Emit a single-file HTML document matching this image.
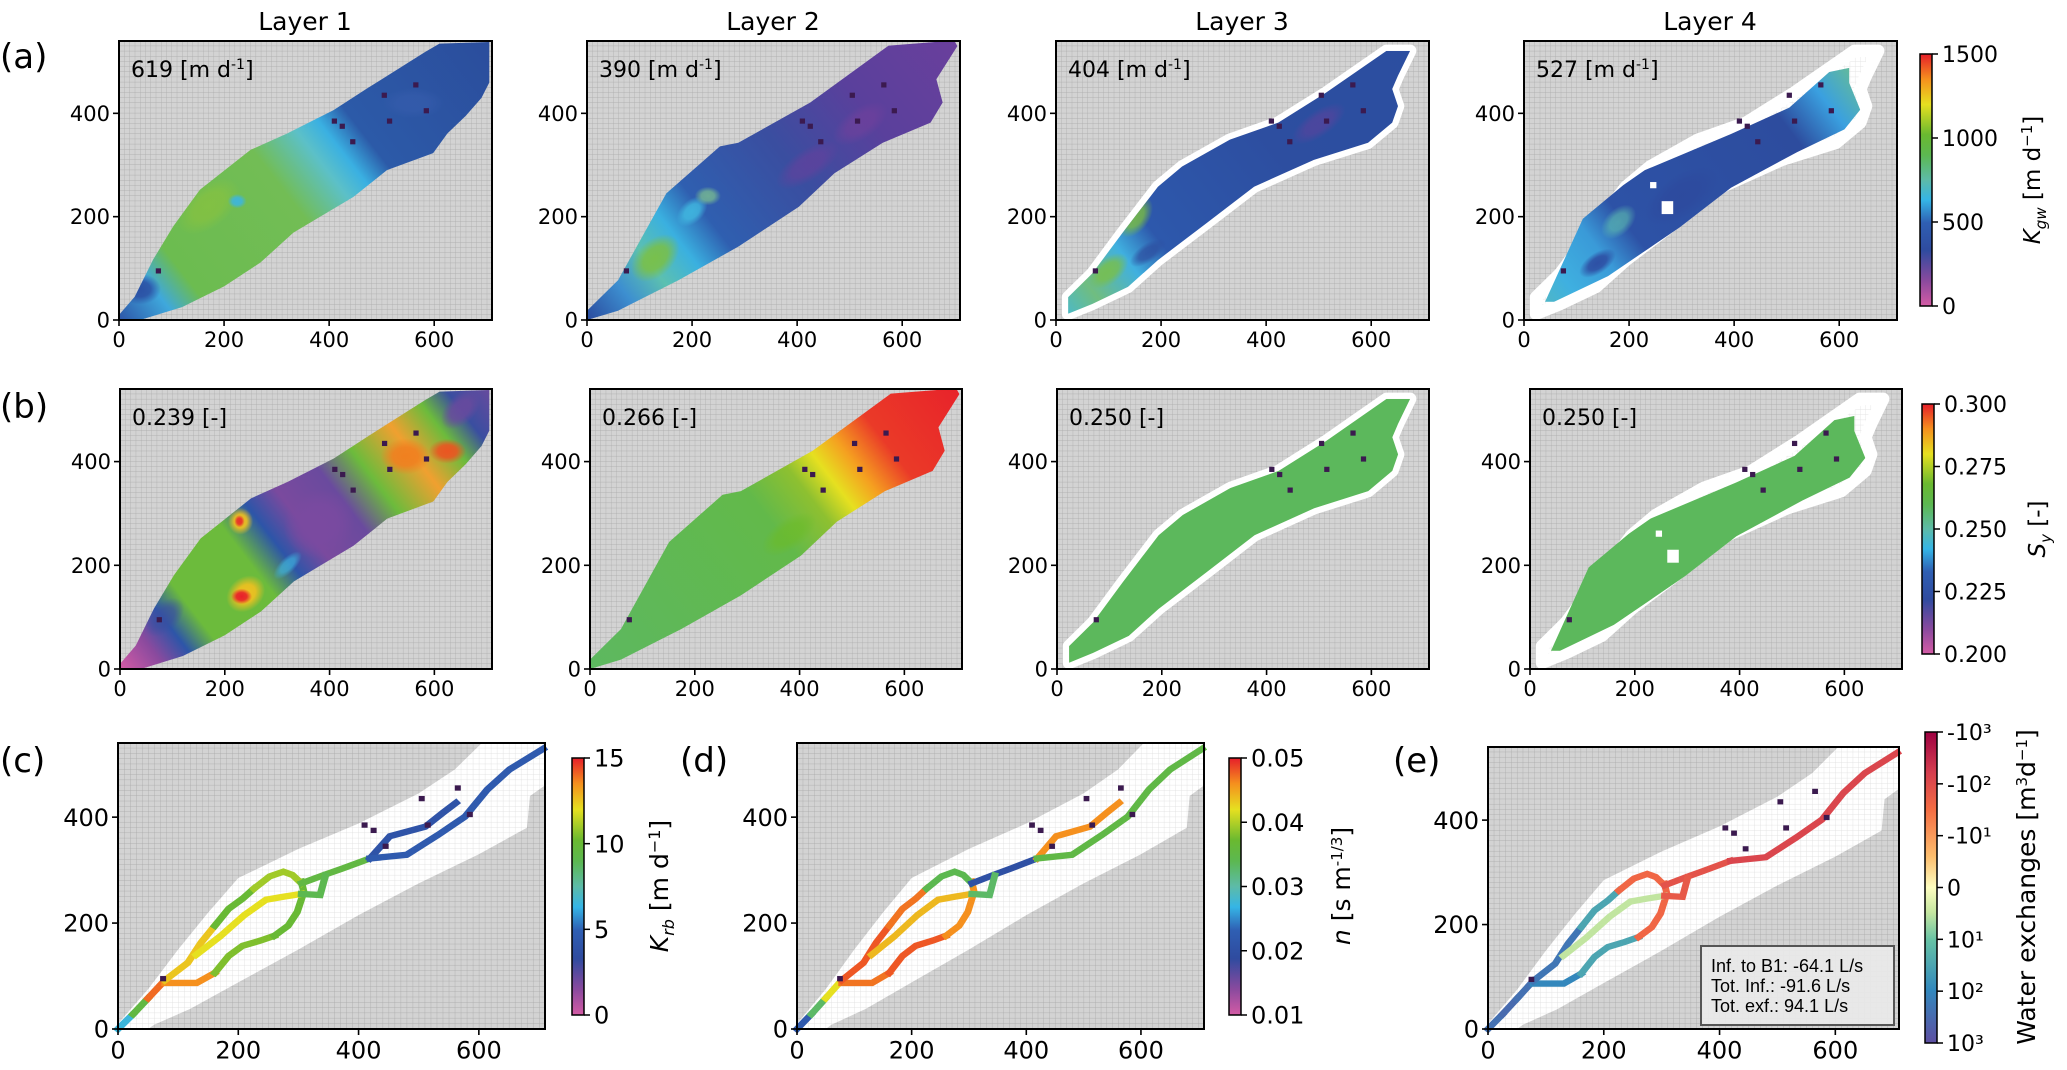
<!DOCTYPE html>
<html><head><meta charset="utf-8">
<style>
html,body{margin:0;padding:0;background:#fff;}
svg{display:block;font-family:"DejaVu Sans","Liberation Sans",sans-serif;}
</style></head>
<body>
<svg id="fig" width="2067" height="1070" viewBox="0 0 2067 1070" xmlns="http://www.w3.org/2000/svg">
<defs>
<pattern id="gridGray" patternUnits="userSpaceOnUse" width="10" height="10"><rect width="10" height="10" fill="#d3d3d3"/><path d="M0 0H10M0 0V10" stroke="#a6a6a6" stroke-width="1.2" fill="none"/></pattern>
<pattern id="gridWhite" patternUnits="userSpaceOnUse" width="10" height="10"><rect width="10" height="10" fill="#ffffff"/><path d="M0 0H10M0 0V10" stroke="#dcdcdc" stroke-width="1.2" fill="none"/></pattern>
</defs>
</svg>
<script>
// ---------- data ----------
const xTicks = [0, 200, 400, 600];
const yTicks = [0, 200, 400];
const layerTitles = ["Layer 1", "Layer 2", "Layer 3", "Layer 4"];
const kMeans = ["619", "390", "404", "527"];
const syMeans = ["0.239", "0.266", "0.250", "0.250"];
const kgwTicks = [0, 500, 1000, 1500];
const syTicks = [0.200, 0.225, 0.250, 0.275, 0.300];
const krbTicks = [0, 5, 10, 15];
const nTicks = [0.01, 0.02, 0.03, 0.04, 0.05];
const exTickLabels = ["10³", "10²", "10¹", "0", "-10¹", "-10²", "-10³"];
const wellX = [75, 410, 425, 445, 505, 515, 565, 585];
const wellY = [95, 385, 375, 345, 435, 385, 455, 405];
const legendLines = ["Inf. to B1: -64.1 L/s", "Tot. Inf.: -91.6 L/s", "Tot. exf.: 94.1 L/s"];
// river segments (data coords)
const segments = [
 [[0,0],[25,28]],
 [[25,28],[50,58]],
 [[50,58],[78,92]],
 [[78,87],[131,87],[161,106]],
 [[161,106],[184,138],[207,157],[237,167],[260,176]],
 [[260,176],[283,195],[298,221],[309,259],[305,278]],
 [[78,92],[116,125],[138,163],[161,195]],
 [[161,195],[184,227],[207,246],[226,265]],
 [[226,265],[252,288],[275,297],[290,291],[305,275]],
 [[130,140],[170,175],[210,215],[246,244],[276,250],[305,255]],
 [[305,275],[343,291],[373,303],[419,322]],
 [[305,255],[336,253],[345,290]],
 [[419,322],[452,364],[511,382],[540,408],[562,427]],
 [[419,322],[480,329],[533,367],[577,401],[614,452],[651,490],[707,529]]
];
const krbValues = [6.5, 9.5, 14, 13.5, 10.5, 10, 12.5, 10, 11, 12, 9.5, 9, 4, 4.5];
const nValues = [0.022, 0.033, 0.042, 0.047, 0.048, 0.046, 0.048, 0.047, 0.034, 0.044, 0.02, 0.033, 0.046, 0.035];
const exchangeExp = [2.4, 2.5, 2.4, 2.0, 1.5, -1.6, 2.3, 1.5, -1.6, 0.5, -1.9, -1.8, null, -2.1];

// ---------- shapes ----------
const L2poly=[[0,18],[59,77],[151,245],[253,336],[288,343],[425,421],[574,531],[699,541],[705,530],[665,466],[677,421],[654,382],[563,343],[471,284],[403,219],[288,142],[174,77],[59,18],[0,0]];
const L1poly=[[0,10],[30,45],[65,117],[103,181],[154,252],[250,329],[320,361],[408,406],[472,448],[583,519],[610,535],[705,538],[705,460],[690,430],[660,395],[625,361],[598,323],[510,290],[446,238],[332,169],[269,111],[200,65],[120,25],[40,0],[0,0]];
const L3poly=[[23,44],[69,90],[126,168],[194,258],[240,297],[331,349],[423,382],[514,440],[629,521],[674,521],[651,473],[640,447],[651,414],[640,382],[594,343],[491,310],[377,258],[286,187],[194,116],[137,64],[69,31],[23,12]];
const L4poly=[[40,35],[112,196],[189,261],[230,290],[312,325],[394,360],[505,411],[581,480],[619,488],[619,459],[640,407],[610,369],[520,325],[394,256],[296,179],[160,85],[57,35]];
const ENV3=[[0,0],[0,10],[50,75],[100,150],[150,220],[200,285],[300,340],[400,388],[500,445],[560,490],[605,540],[710,540],[710,460],[685,440],[680,380],[640,355],[600,330],[500,275],[400,215],[300,150],[200,88],[120,38],[60,8],[50,0]];

const CM_MAIN=[[0,'#d45ba5'],[0.1,'#8a4a9e'],[0.22,'#2f4b9f'],[0.33,'#2f5fb3'],[0.42,'#35b5e6'],[0.5,'#5dbba8'],[0.6,'#5cb850'],[0.68,'#6ab930'],[0.8,'#e6e020'],[0.9,'#f5901e'],[1,'#e61e2a']];
const CM_EX=[[0,'#5e4fa2'],[0.17,'#3288bd'],[0.33,'#66c2a5'],[0.42,'#c5e6a0'],[0.5,'#fdfdc0'],[0.6,'#fdbe6e'],[0.75,'#f46d43'],[0.87,'#d53e4f'],[1,'#9e0142']];

// ---------- helpers ----------
const NS='http://www.w3.org/2000/svg';
const svg=document.getElementById('fig');
const defs=svg.querySelector('defs');
function mk(tag,attrs,parent){const e=document.createElementNS(NS,tag);for(const k in attrs)e.setAttribute(k,attrs[k]);parent.appendChild(e);return e;}
function hex(c){return [parseInt(c.slice(1,3),16),parseInt(c.slice(3,5),16),parseInt(c.slice(5,7),16)];}
function cmap(cm,t){t=Math.max(0,Math.min(1,t));for(let i=1;i<cm.length;i++){if(t<=cm[i][0]){const a=cm[i-1],b=cm[i];const f=(t-a[0])/(b[0]-a[0]);const A=hex(a[1]),B=hex(b[1]);return 'rgb('+A.map((v,j)=>Math.round(v+(B[j]-v)*f)).join(',')+')';}}return cm[cm.length-1][1];}
function pts(p){return p.map(q=>q.join(',')).join(' ');}
let gid=0;
function linGrad(stops,x1,y1,x2,y2){const id='lg'+(gid++);const g=mk('linearGradient',{id:id,gradientUnits:'userSpaceOnUse',x1:x1,y1:y1,x2:x2,y2:y2},defs);stops.forEach(s=>mk('stop',{offset:s[0],'stop-color':s[1]},g));return id;}
function radGrad(color){const id='rg'+(gid++);const g=mk('radialGradient',{id:id},defs);mk('stop',{offset:0,'stop-color':color,'stop-opacity':1},g);mk('stop',{offset:0.5,'stop-color':color,'stop-opacity':0.9},g);mk('stop',{offset:1,'stop-color':color,'stop-opacity':0},g);return id;}
function text(parent,x,y,str,size,anchor,name){const t=mk('text',{x:x,y:y,'font-size':size,'text-anchor':anchor||'start',fill:'#000'},parent);t.textContent=str;


return t;}

function panel(name,L,R,T,B,opt){
 const g=mk('g',{},svg);
 
 
 const sx=(R-L)/710, sy=(B-T)/540;
 const X=d=>L+d*sx, Y=d=>B-d*sy;
 const inner=mk('g',{transform:`translate(${L},${B}) scale(${sx},${-sy})`},g);
 const bg=mk('rect',{x:0,y:0,width:710,height:540,fill:'url(#gridGray)'},inner);
 
 
 if(opt.env){const e=mk('polygon',{points:pts(opt.env),fill:'url(#gridWhite)'},inner);
  
  }
 if(opt.envStroke){const e=mk('polygon',{points:pts(opt.envStroke),fill:'url(#gridWhite)',stroke:'#fff','stroke-width':24,'stroke-linejoin':'round'},inner);
  
  }
 if(opt.poly){
  const cid='cp'+(gid++);const cp=mk('clipPath',{id:cid},defs);mk('polygon',{points:pts(opt.poly)},cp);
  const fg=mk('g',{'clip-path':`url(#${cid})`},inner);
  
  
  const fill=opt.grad?`url(#${linGrad(opt.grad,0,0,710,540)})`:opt.fill;
  mk('rect',{x:0,y:0,width:710,height:540,fill:fill},fg);
  (opt.blobs||[]).forEach(b=>{mk('ellipse',{cx:b[0],cy:b[1],rx:b[2],ry:b[3],fill:`url(#${radGrad(b[4])})`,opacity:b[5]===undefined?1:b[5],transform:`rotate(${b[6]||0},${b[0]},${b[1]})`},fg);});
  (opt.holes||[]).forEach(h=>mk('rect',{x:h[0],y:h[1],width:h[2],height:h[3],fill:'#fff'},fg));
 }
 if(opt.river){
  segments.forEach((s,i)=>{const v=opt.river[i];if(v===null)return;
   const pl=mk('polyline',{points:pts(s),fill:'none',stroke:cmap(opt.cm,opt.norm(v)),'stroke-width':12,'stroke-linejoin':'miter','stroke-linecap':'square'},inner);
   
   });
 }
 wellX.forEach((wx,i)=>{const r=mk('rect',{x:wx-5,y:wellY[i]-5,width:10,height:10,fill:'#3b1a4f'},inner);
  
  });
 const fr=mk('rect',{x:L,y:T,width:R-L,height:B-T,fill:'none',stroke:'#000','stroke-width':2},g);
 
 
 const fs=opt.fs||21;
 xTicks.forEach(v=>{mk('line',{x1:X(v),x2:X(v),y1:B,y2:B+6,stroke:'#000','stroke-width':1.6},g);text(g,X(v),B+8+fs*0.9,String(v),fs,'middle','x-tick-label');});
 yTicks.forEach(v=>{mk('line',{x1:L-6,x2:L,y1:Y(v),y2:Y(v),stroke:'#000','stroke-width':1.6},g);text(g,L-9,Y(v)+fs*0.36,String(v),fs,'end','y-tick-label');});
 return g;
}
function colorbar(name,x,T,B,cm,labels,fs){
 const g=mk('g',{},svg);
 
 
 const id='cb'+(gid++);const lg=mk('linearGradient',{id:id,x1:0,y1:1,x2:0,y2:0},defs);cm.forEach(s=>mk('stop',{offset:s[0],'stop-color':s[1]},lg));
 mk('rect',{x:x,y:T,width:12,height:B-T,fill:`url(#${id})`,stroke:'#000','stroke-width':1.5},g);
 labels.forEach((l,i)=>{const y=B-(B-T)*i/(labels.length-1);mk('line',{x1:x+12,x2:x+18,y1:y,y2:y,stroke:'#000','stroke-width':1.5},g);text(g,x+22,y+fs*0.36,l,fs,'start','colorbar-tick-label');});
 return g;
}
function rotLabel(x,y,parts,fs,name){
 const t=mk('text',{x:0,y:0,'font-size':fs,'text-anchor':'middle',transform:`translate(${x},${y}) rotate(-90)`},svg);
 
 
 parts.forEach(p=>{const s=mk('tspan',p[1]||{},t);s.textContent=p[0];});
}

// ---------- titles / panel letters ----------
const r1L=[119,587,1056,1524], r2L=[120,590,1057,1530];
layerTitles.forEach((t,i)=>text(svg,r1L[i]+186,30,t,25,'middle','layer-title'));
[["(a)",0,68],["(b)",0,418],["(c)",0,772],["(d)",680,772],["(e)",1393,772]].forEach(p=>text(svg,p[1],p[2],p[0],34,'start','panel-letter'));

// ---------- row 1: K_gw ----------
const kOpts=[
 {poly:L1poly,grad:[[0,'#2d55a8'],[0.1,'#3fa8dc'],[0.17,'#6cbc50'],[0.45,'#72bd55'],[0.55,'#5cc0c8'],[0.6,'#3ab0e2'],[0.66,'#2c5aa8'],[1,'#2b4d9c']],
  blobs:[[40,60,40,30,'#2a4aa0',0.9],[170,220,70,40,'#8ec43a',0.6,40],[225,230,18,14,'#3ab5e6',0.9],[560,420,60,30,'#3a5fb0',0.5]]},
 {poly:L2poly,grad:[[0,'#2a4a9e'],[0.1,'#3d8fd0'],[0.18,'#5cc0b0'],[0.26,'#3ab0e0'],[0.34,'#2f5fb0'],[0.55,'#3a4ea0'],[0.75,'#5a409c'],[1,'#6a3f9c']],
  blobs:[[130,120,55,35,'#7cc040',0.9,45],[200,210,35,22,'#40b8e0',0.9,45],[230,240,25,18,'#7cc090',0.8],[420,300,70,30,'#6a3f9c',0.6,35],[520,380,60,30,'#7a409c',0.5,35]]},
 {poly:L3poly,grad:[[0,'#40b8e0'],[0.1,'#70bd80'],[0.2,'#40b0e0'],[0.28,'#2d58ac'],[0.6,'#2d4ea0'],[1,'#2b4ea0']],
  blobs:[[150,200,45,28,'#7cc040',0.85,55],[100,95,45,25,'#7cc040',0.8,40],[175,130,40,18,'#2d4ea0',0.8,35],[500,380,60,25,'#6a3f9c',0.5,35]],envStroke:L3poly},
 {poly:L4poly,grad:[[0,'#5cbcb0'],[0.12,'#3fb0e0'],[0.22,'#3a9ad8'],[0.3,'#2d52a6'],[0.7,'#2d4c9e'],[0.8,'#3aa0e0'],[0.88,'#60b8a0'],[1,'#6cbb3c']],
  blobs:[[140,110,40,20,'#2d4ca2',0.95,35],[300,240,80,40,'#2d4a9e',0.9,35],[180,190,40,25,'#5cbcb0',0.7,45]],holes:[[240,255,12,12],[262,205,22,25]],envStroke:L3poly}
];
kOpts.forEach((o,i)=>{const g=panel('kgw-map-layer-'+(i+1),r1L[i],r1L[i]+373,41,320,o);
 const t=text(g,r1L[i]+12,77,kMeans[i]+' [m d',22,'start','mean-k-annotation');const s=mk('tspan',{dy:-8,'font-size':14},t);s.textContent='-1';const s2=mk('tspan',{dy:8},t);s2.textContent=']';});
colorbar('kgw-colorbar',1920,54,306,CM_MAIN,kgwTicks.map(String),22);
rotLabel(2040,180,[['K',{'font-style':'italic'}],['gw',{'font-style':'italic','font-size':15,dy:6}],[' [m d',{dy:-6}],['−1',{'font-size':15,dy:-8}],[']',{dy:8}]],23,'kgw-axis-title');

// ---------- row 2: S_y ----------
const syOpts=[
 {poly:L1poly,grad:[[0,'#d45ba5'],[0.08,'#8a4a9e'],[0.14,'#2d55a8'],[0.2,'#6cbb3c'],[0.36,'#6cbb3c'],[0.43,'#2d55a8'],[0.5,'#7a4a9e'],[0.6,'#6a4a9e'],[0.68,'#6cbb3c'],[0.78,'#f0a030'],[0.86,'#6cbb3c'],[0.92,'#3a4ea0'],[1,'#6a4a9e']],
  blobs:[[240,145,40,32,'#f0c020',1,40],[232,140,20,15,'#e8202a',1],[230,285,24,26,'#f0c020',1],[228,285,10,12,'#e8302a',1],[380,280,70,65,'#7a4aa0',0.95,40],[545,410,48,35,'#f08020',1],[625,420,36,24,'#f05020',0.95],[320,200,35,15,'#40b8e0',0.7,45],[650,500,45,28,'#6a4a9e',0.9,45],[85,100,45,28,'#3a4ea0',0.7,45]]},
 {poly:L2poly,grad:[[0,'#5db860'],[0.5,'#62b94a'],[0.6,'#8ec030'],[0.66,'#e6e020'],[0.72,'#f5a020'],[0.8,'#ea3a28'],[1,'#e8222a']],
  blobs:[[380,260,60,30,'#6cbb28',0.7,35]]},
 {poly:L3poly,fill:'#5cb85c',envStroke:L3poly},
 {poly:L4poly,fill:'#5cb85c',holes:[[240,255,12,12],[262,205,22,25]],envStroke:L3poly}
];
syOpts.forEach((o,i)=>{const g=panel('sy-map-layer-'+(i+1),r2L[i],r2L[i]+372,389,669,o);
 text(g,r2L[i]+12,425,syMeans[i]+' [-]',22,'start','mean-sy-annotation');});
colorbar('sy-colorbar',1922,404,654,CM_MAIN,syTicks.map(v=>v.toFixed(3)),22);
rotLabel(2045,529,[['S',{'font-style':'italic'}],['y',{'font-style':'italic','font-size':15,dy:6}],[' [-]',{dy:-6}]],23,'sy-axis-title');

// ---------- row 3 ----------
panel('krb-map',118,545,743,1029,{env:ENV3,river:krbValues,cm:CM_MAIN,norm:v=>v/15,fs:24});
colorbar('krb-colorbar',572,758,1015,CM_MAIN,krbTicks.map(String),24);
rotLabel(668,886,[['K',{'font-style':'italic'}],['rb',{'font-style':'italic','font-size':16,dy:6}],[' [m d',{dy:-6}],['−1',{'font-size':16,dy:-8}],[']',{dy:8}]],25,'krb-axis-title');

panel('manning-map',797,1204,743,1029,{env:ENV3,river:nValues,cm:CM_MAIN,norm:v=>(v-0.01)/0.04,fs:24});
colorbar('manning-colorbar',1229,758,1015,CM_MAIN,nTicks.map(v=>v.toFixed(2)),24);
rotLabel(1350,886,[['n',{'font-style':'italic'}],[' [s m'],['-1/3',{'font-size':15,dy:-8}],[']',{dy:8}]],25,'manning-axis-title');

panel('exchange-map',1488,1899,747,1029,{env:ENV3,river:exchangeExp,cm:CM_EX,norm:v=>(3-v)/6,fs:24});
colorbar('exchange-colorbar',1925,732,1043,CM_EX,exTickLabels,22);
rotLabel(2035,887,[['Water exchanges [m'],['3',{'font-size':15,dy:-8}],['d',{dy:8}],['−1',{'font-size':15,dy:-8}],[']',{dy:8}]],25,'exchange-axis-title');
const lg=mk('g',{},svg);


mk('rect',{x:1701,y:946,width:193,height:79,fill:'#e9e9e9','fill-opacity':0.92,stroke:'#555','stroke-width':2},lg);
legendLines.forEach((l,i)=>{const t=text(lg,1711,972+i*20,l,18,'start','legend-entry');t.setAttribute('font-family','Liberation Sans, sans-serif');});
</script>
</body></html>
